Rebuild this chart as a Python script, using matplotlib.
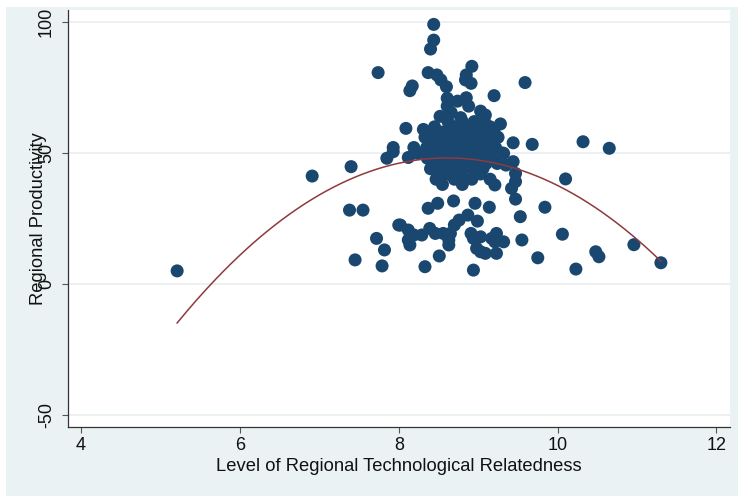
import numpy as np
import matplotlib.pyplot as plt
from matplotlib.patches import Rectangle

plt.rcParams['font.family'] = ['Liberation Sans', 'DejaVu Sans']
plt.rcParams['axes.unicode_minus'] = False

# Scatter: level of relatedness vs. productivity, outlying regions
rel_outer = [5.21, 6.91, 7.40, 7.38, 7.55, 7.72, 7.82, 7.45, 7.79, 7.85,
             7.93, 8.00, 10.32, 10.65, 10.10, 10.06, 10.48, 10.52, 10.23, 10.96,
             11.30, 8.44, 8.44, 8.40, 8.37, 8.48, 8.53, 8.60, 8.92, 8.85,
             8.84, 8.91, 7.74, 8.17, 8.14, 9.59, 8.61, 8.61, 8.74, 8.85,
             8.88, 9.20, 9.03, 9.09, 8.09, 8.31, 9.28, 9.44, 9.68, 7.93,
             8.19, 8.12, 8.23, 9.32, 9.44, 9.35, 9.47, 9.47, 9.42, 9.47,
             9.21, 9.84, 9.53, 9.55, 9.75, 8.69, 8.96, 9.14, 8.37, 8.49,
             8.87, 8.76, 8.70, 8.99, 8.02, 8.12, 8.19, 8.12, 8.14, 8.29,
             8.39, 8.46, 8.56, 8.65, 8.63, 8.63, 8.91, 8.94, 9.03, 8.98,
             9.03, 9.23, 9.17, 9.21, 9.32, 9.23, 9.09, 8.51, 8.33, 8.94,
             8.52, 8.66, 8.78]
prod_outer = [5.0, 41.2, 44.8, 28.2, 28.2, 17.4, 13.0, 9.2, 6.9, 48.0,
              50.5, 22.5, 54.3, 51.8, 40.1, 19.0, 12.3, 10.4, 5.7, 15.0,
              8.1, 99.1, 93.1, 89.7, 80.7, 79.8, 77.9, 75.3, 83.1, 79.8,
              77.9, 76.6, 80.7, 75.6, 73.8, 76.9, 70.9, 67.9, 69.8, 71.1,
              67.9, 71.9, 66.0, 64.5, 59.4, 59.0, 61.1, 53.9, 53.3, 52.1,
              52.1, 48.3, 49.9, 49.9, 46.7, 45.4, 42.2, 39.1, 36.5, 32.4,
              37.8, 29.3, 25.7, 16.8, 10.0, 31.7, 30.8, 29.3, 28.9, 30.8,
              26.3, 24.4, 22.5, 24.0, 22.5, 20.6, 18.7, 16.8, 14.9, 18.7,
              21.2, 19.3, 19.3, 19.3, 16.8, 14.9, 19.3, 17.4, 18.0, 13.6,
              12.3, 19.3, 17.4, 16.1, 16.1, 11.7, 11.7, 10.7, 6.6, 5.3,
              64.0, 65.5, 63.5]

# Dense core of regions around relatedness 8.3-9.3
rel_core = [8.62, 8.80, 8.95, 9.08,
            8.45, 8.70, 8.86, 9.00, 9.15,
            8.38, 8.55, 8.68, 8.82, 8.93, 9.05, 9.20,
            8.33, 8.48, 8.60, 8.75, 8.88, 8.98, 9.12, 9.25,
            8.40, 8.52, 8.66, 8.78, 8.90, 9.02, 9.16,
            8.35, 8.47, 8.58, 8.72, 8.85, 8.96, 9.08, 9.22,
            8.42, 8.55, 8.68, 8.80, 8.92, 9.04, 9.18, 9.30,
            8.36, 8.50, 8.63, 8.76, 8.88, 9.00, 9.12,
            8.45, 8.58, 8.72, 8.84, 8.97, 9.10, 9.24,
            8.40, 8.55, 8.66, 8.82, 8.93, 9.06,
            8.50, 8.62, 8.79, 9.03,
            8.47, 8.70, 8.92, 9.15,
            8.55, 8.80]
prod_core = [62, 62, 62, 62,
             60, 60, 60, 60, 60,
             58, 58, 58, 58, 58, 58, 58,
             56, 56, 56, 56, 56, 56, 56, 56,
             54, 54, 54, 54, 54, 54, 54,
             52, 52, 52, 52, 52, 52, 52, 52,
             50, 50, 50, 50, 50, 50, 50, 50,
             48, 48, 48, 48, 48, 48, 48,
             46, 46, 46, 46, 46, 46, 46,
             44, 44, 44, 44, 44, 44,
             42, 42, 42, 42,
             40, 40, 40, 40,
             38, 38]

# Quadratic fit (qfit): productivity = b0 + b1*x + b2*x^2
qfit_coef = [-355.9, 93.85, -5.45]
qfit_range = [5.21, 11.30]

rel = np.array(rel_outer + rel_core)
prod = np.array(prod_outer + prod_core)

bg = '#eaf2f3'
fig = plt.figure(figsize=(7.38, 4.96), dpi=100)
fig.patch.set_facecolor('white')
fig.patches.append(Rectangle((6 / 738, 0), 1, (496 - 7) / 496,
                             transform=fig.transFigure, facecolor=bg,
                             edgecolor='none', zorder=-10))

ax = fig.add_axes([68 / 738, 69 / 496, 662 / 738, 417 / 496])
ax.set_facecolor('white')

xs = np.linspace(qfit_range[0], qfit_range[1], 200)
ys = qfit_coef[0] + qfit_coef[1] * xs + qfit_coef[2] * xs ** 2

ax.scatter(rel, prod, s=88, color='#1a476f', edgecolors='none', zorder=3)
ax.plot(xs, ys, color='#8e3a3e', lw=1.1, zorder=4)

ax.set_xlim(3.836, 12.17)
ax.set_ylim(-54.6, 104.6)
ax.set_xticks([4, 6, 8, 10, 12])
ax.set_yticks([-50, 0, 50, 100])
ax.yaxis.grid(True, color='#e9f0f2', lw=1.3)
ax.set_axisbelow(True)

for side in ['top', 'right']:
    ax.spines[side].set_visible(False)
for side in ['left', 'bottom']:
    ax.spines[side].set_color('#333333')
    ax.spines[side].set_linewidth(0.9)

ax.tick_params(axis='both', direction='out', length=4.3, width=0.8,
               color='#555555', labelsize=13, labelcolor='#111111')
ax.tick_params(axis='x', pad=3)
ax.tick_params(axis='y', pad=5, labelrotation=90)
for lab in ax.get_yticklabels():
    lab.set_va('center')

ax.set_xlabel('Level of Regional Technological Relatedness', fontsize=13.2,
              color='#111111', labelpad=3)
ax.set_ylabel('Regional Productivity', fontsize=13.2, color='#111111')
ax.yaxis.set_label_coords(-0.031, 0.5)

plt.savefig('out.png', dpi=100, facecolor=fig.get_facecolor())
